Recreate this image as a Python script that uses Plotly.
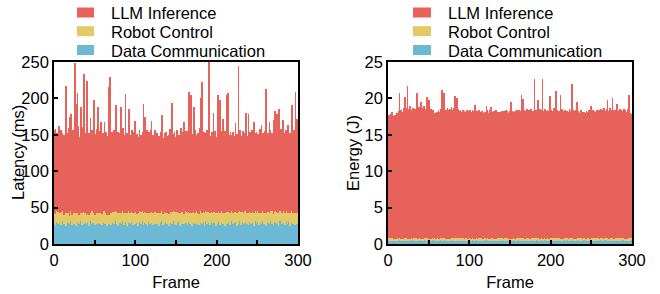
import plotly.graph_objects as go

frames = list(range(300))

lat_llm = [
115,95,117,100,108,96,118,104,99,112,106,101,110,97,103,175,108,100,113,98,
127,133,104,110,99,107,203,150,102,165,111,96,105,140,108,100,113,190,104,109,
98,173,106,112,101,130,97,109,104,155,110,102,99,114,145,103,107,96,125,111,
100,108,120,97,112,105,101,109,175,183,98,110,104,96,113,107,145,102,100,111,
106,97,143,109,101,112,98,105,163,104,110,99,140,107,102,96,113,100,108,103,
125,97,110,104,99,112,101,106,98,109,150,103,130,97,111,105,100,108,96,110,
125,102,107,99,113,98,104,110,97,106,101,112,99,130,105,96,108,102,111,97,
104,109,99,112,101,150,106,98,110,103,97,111,105,100,108,96,113,102,107,99,
127,104,110,98,112,101,165,106,160,99,108,103,143,97,111,105,100,109,96,112,
155,103,180,98,110,101,107,99,112,104,97,205,106,100,109,102,135,98,111,105,
100,108,160,97,155,110,102,106,130,99,112,104,160,101,163,98,107,110,100,105,
111,97,104,120,102,109,99,200,106,112,98,104,110,97,108,101,135,106,99,135,
103,110,98,112,104,100,125,107,97,111,102,106,99,113,104,120,101,108,97,110,
105,170,100,109,98,125,112,103,107,99,130,104,138,110,135,101,106,140,98,112,
104,99,125,108,101,111,97,106,120,103,110,100,107,145,102,112,98,165,105,130]

lat_robot = [
14,11,16,12,15,17,10,13,14,18,11,15,12,16,13,17,11,14,15,12,
16,10,14,17,13,15,11,18,12,14,16,13,11,15,17,12,14,16,10,15,
13,17,11,15,14,12,18,13,16,11,14,15,12,17,10,14,13,16,11,15,
12,16,14,18,11,15,13,17,12,14,16,10,15,13,17,14,11,16,12,18,
15,13,11,16,14,12,17,15,10,14,18,13,16,11,15,12,14,17,13,11,
16,14,12,18,13,15,11,17,14,12,16,15,10,14,13,17,12,11,16,14,
15,12,17,13,16,14,11,15,12,18,14,13,11,16,15,12,17,14,13,15,
11,16,14,12,15,17,13,10,16,14,18,12,15,13,11,17,14,16,12,15,
14,12,16,13,17,11,14,15,10,13,18,15,12,16,14,11,17,13,15,12,
13,16,15,12,14,18,11,14,16,10,15,13,17,14,12,16,11,15,13,17,
11,15,13,14,17,12,16,11,15,14,18,13,10,16,14,12,17,15,11,14,
16,13,15,11,14,17,12,16,14,11,18,14,13,15,10,16,12,14,15,17,
12,14,16,13,15,11,18,14,12,15,16,11,17,13,14,16,10,14,15,12,
14,18,11,15,13,16,14,12,17,13,15,14,11,16,12,15,18,13,14,11,
15,13,16,11,17,14,12,15,13,10,18,14,16,12,15,13,17,11,14,15]

lat_comm = [
28,33,25,35,30,27,34,29,32,26,35,31,28,33,30,25,34,29,32,27,
31,35,26,30,33,28,34,25,32,29,35,27,31,33,26,30,34,28,32,29,
27,34,30,25,33,31,28,35,29,32,26,34,30,27,33,29,35,28,31,26,
33,29,34,27,31,25,35,30,28,32,26,34,29,33,27,31,35,28,30,25,
32,29,34,27,31,35,26,30,33,28,25,34,29,32,27,35,30,26,33,31,
28,34,29,25,32,30,35,27,31,33,26,29,34,28,32,25,30,35,27,33,
29,31,26,34,28,32,35,27,30,25,33,29,34,31,26,32,28,35,30,27,
33,25,31,34,29,27,32,35,28,30,26,33,29,34,31,25,32,28,35,30,
27,33,29,31,26,34,30,28,35,32,25,29,33,27,31,34,28,30,26,35,
32,29,27,33,30,25,34,31,28,35,29,32,26,30,33,27,34,29,31,25,
35,28,32,30,26,33,29,34,27,31,25,32,35,28,30,33,26,29,34,31,
27,32,29,35,30,25,33,28,31,34,26,30,32,27,35,29,33,28,31,26,
34,30,27,32,29,35,25,31,33,28,30,34,26,32,29,27,35,31,28,33,
30,25,34,29,32,27,31,35,28,33,26,30,34,29,32,27,25,33,31,35,
28,32,29,34,26,31,33,27,30,35,25,32,29,34,28,31,26,33,30,27]

en_llm = [
16.8,16.9,16.5,17.0,16.7,17.4,16.6,16.9,16.7,17.0,16.8,17.3,16.9,17.5,19.9,17.2,17.6,16.9,17.4,17.8,
17.1,19.4,17.5,17.9,20.8,17.3,17.7,18.2,17.0,17.6,17.4,17.9,17.2,17.8,17.5,17.1,20.0,17.6,18.0,17.3,
17.7,18.7,17.4,17.9,18.2,17.3,17.8,17.1,19.4,17.6,19.0,17.2,17.5,17.8,17.0,17.6,17.3,16.9,17.2,17.0,
17.4,16.9,17.6,17.1,17.3,17.7,20.4,17.5,17.8,20.0,17.2,17.6,17.4,17.9,17.1,17.5,17.8,17.3,18.0,17.6,
17.4,17.9,19.5,17.6,17.2,19.2,17.8,17.5,17.3,17.7,17.1,17.4,17.6,17.2,17.5,17.0,17.3,17.6,17.1,17.4,
17.2,17.5,17.0,17.3,17.6,17.1,17.4,18.4,17.2,17.5,17.0,17.3,17.6,17.2,17.4,17.1,17.5,17.3,17.0,17.4,
17.2,18.2,17.5,17.1,17.3,17.6,17.0,18.0,17.4,17.2,17.5,17.1,17.3,17.6,17.0,17.4,17.2,16.5,17.3,17.1,
17.4,17.0,17.3,17.5,17.1,17.6,17.2,17.4,17.0,17.3,17.5,18.7,17.2,17.6,17.3,17.0,17.5,17.2,17.4,17.7,
17.3,17.6,17.1,17.5,19.7,17.2,19.2,17.6,17.4,17.0,17.5,17.7,17.3,17.6,17.1,17.4,17.8,17.2,17.5,17.3,
21.9,17.4,17.7,17.2,19.0,17.5,17.3,17.8,17.1,17.6,21.8,17.3,17.5,17.7,17.2,17.4,17.6,17.1,17.5,19.5,
17.3,17.6,17.2,17.5,17.8,17.1,17.4,20.2,17.6,17.3,17.5,17.2,19.7,17.4,17.7,17.1,17.5,17.3,17.6,17.2,
17.5,17.0,17.4,17.7,17.2,17.5,21.2,17.3,17.6,17.1,17.4,17.7,18.7,17.2,17.5,17.0,17.3,17.6,17.1,17.4,
16.9,17.3,17.0,17.2,17.5,17.1,17.4,17.6,17.2,17.4,18.2,17.3,17.6,17.1,17.5,17.2,17.4,17.7,17.3,17.6,
17.2,17.5,17.8,17.3,17.6,17.4,17.9,17.2,17.5,17.7,19.0,17.4,17.6,17.8,17.3,17.5,19.2,17.7,17.4,17.6,
17.3,17.7,18.5,17.2,17.5,17.8,17.4,17.6,17.1,17.5,17.7,17.3,17.6,17.2,17.4,17.8,19.6,17.7,17.3,17.0]

en_comm = [
.50,.47,.52,.49,.54,.46,.51,.48,.53,.50,.45,.52,.49,.47,.53,.50,.48,.54,.46,.51,
.49,.53,.47,.50,.52,.46,.54,.48,.51,.49,.45,.53,.50,.47,.52,.48,.54,.46,.51,.49,
.52,.48,.50,.46,.53,.49,.51,.47,.54,.50,.48,.52,.45,.51,.49,.53,.47,.50,.52,.46,
.51,.49,.53,.47,.50,.54,.48,.52,.46,.49,.51,.47,.53,.50,.45,.52,.48,.54,.49,.51,
.47,.50,.53,.48,.52,.46,.49,.54,.51,.47,.50,.52,.45,.53,.49,.51,.48,.50,.46,.52,
.49,.53,.47,.51,.50,.46,.54,.48,.52,.49,.45,.51,.53,.47,.50,.52,.48,.46,.54,.49,
.51,.47,.52,.50,.48,.53,.46,.49,.51,.54,.47,.50,.52,.45,.49,.53,.48,.51,.46,.50,
.52,.49,.47,.53,.50,.46,.51,.54,.48,.49,.52,.47,.50,.45,.53,.51,.48,.49,.52,.46,
.50,.53,.48,.51,.47,.54,.49,.52,.46,.50,.48,.53,.45,.51,.49,.47,.52,.50,.54,.48,
.51,.46,.49,.53,.50,.47,.52,.48,.54,.49,.51,.45,.50,.53,.47,.52,.48,.50,.46,.51,
.49,.52,.47,.54,.50,.48,.53,.46,.51,.49,.52,.47,.50,.45,.53,.48,.51,.54,.49,.47,
.52,.50,.46,.51,.53,.48,.49,.54,.47,.50,.52,.45,.51,.49,.53,.47,.50,.52,.48,.46,
.51,.49,.53,.47,.50,.54,.48,.52,.46,.49,.51,.47,.53,.50,.45,.52,.48,.51,.49,.53,
.47,.50,.52,.48,.54,.46,.51,.49,.53,.47,.50,.52,.45,.51,.48,.54,.49,.50,.46,.52,
.49,.53,.47,.51,.50,.48,.52,.46,.54,.49,.51,.47,.50,.53,.45,.52,.48,.50,.49,.51]

en_robot = [
.28,.31,.25,.30,.27,.33,.29,.26,.32,.28,.30,.24,.31,.27,.29,.33,.26,.30,.28,.32,
.29,.25,.31,.28,.33,.27,.30,.26,.32,.29,.24,.31,.28,.30,.27,.33,.25,.29,.31,.28,
.30,.27,.32,.26,.29,.31,.25,.33,.28,.30,.27,.32,.29,.24,.31,.28,.26,.30,.33,.29,
.27,.31,.28,.25,.32,.29,.30,.26,.33,.28,.31,.27,.24,.30,.29,.32,.26,.28,.31,.30,
.29,.26,.32,.30,.27,.33,.28,.25,.31,.29,.30,.27,.32,.28,.26,.31,.29,.33,.27,.30,
.28,.31,.26,.29,.33,.27,.30,.24,.32,.28,.29,.31,.26,.30,.27,.33,.28,.25,.31,.29,
.30,.27,.32,.28,.25,.31,.29,.33,.26,.30,.28,.27,.32,.29,.31,.24,.30,.28,.33,.26,
.29,.31,.27,.30,.26,.32,.28,.29,.33,.25,.31,.27,.30,.28,.32,.29,.26,.31,.27,.30,
.28,.32,.29,.26,.31,.30,.27,.33,.28,.25,.30,.29,.32,.27,.31,.28,.26,.30,.29,.33,
.27,.30,.28,.32,.26,.29,.31,.25,.30,.28,.33,.27,.29,.31,.26,.30,.28,.32,.29,.27,
.31,.28,.30,.26,.33,.29,.27,.31,.25,.30,.28,.32,.29,.27,.31,.26,.30,.28,.33,.29,
.28,.31,.27,.30,.26,.32,.29,.28,.33,.25,.30,.27,.31,.29,.28,.32,.26,.30,.29,.27,
.32,.28,.30,.27,.31,.26,.29,.33,.28,.30,.25,.31,.27,.29,.32,.28,.30,.26,.31,.29,
.27,.30,.28,.32,.29,.26,.31,.28,.30,.33,.27,.29,.25,.31,.28,.30,.32,.27,.29,.26,
.30,.28,.31,.27,.29,.33,.26,.30,.28,.32,.29,.27,.31,.25,.30,.28,.32,.29,.27,.30]

x_tickvals = [0, 50, 100, 150, 200, 250, 300]
x_ticktext = ["0", "", "100", "", "200", "", "300"]
lat_ticks = [0, 50, 100, 150, 200, 250]
en_ticks = [0, 5, 10, 15, 20, 25]

series_names = ["Data Communication", "Robot Control", "LLM Inference"]
colors = ["#6CB9D6", "#E4CA66", "#E6625A"]
y_titles = ["Latency (ms)", "Energy (J)"]

FONT = "Arial, Liberation Sans, sans-serif"
W, H = 660, 294

fig = go.Figure()
for name, vals, col in zip(series_names, [lat_comm, lat_robot, lat_llm], colors):
    fig.add_trace(go.Bar(x=frames, y=vals, name=name, marker=dict(color=col, line=dict(width=0)),
                         xaxis="x", yaxis="y", showlegend=False))
for name, vals, col in zip(series_names, [en_comm, en_robot, en_llm], colors):
    fig.add_trace(go.Bar(x=frames, y=vals, name=name, marker=dict(color=col, line=dict(width=0)),
                         xaxis="x2", yaxis="y2", showlegend=False))

# legend drawn as swatches + text, top entry = last stacked series
row_centers = [12.5, 31.2, 50.0]
legend_blocks = [(77, 94, 109), (413, 431, 446)]  # swatch x0, swatch x1, text x (pixels)
shapes, annotations = [], []
for sx0, sx1, tx in legend_blocks:
    for rc, name, col in zip(row_centers, series_names[::-1], colors[::-1]):
        shapes.append(dict(type="rect", xref="paper", yref="paper",
                           x0=sx0/W, x1=sx1/W, y0=1-(rc+5)/H, y1=1-(rc-5)/H,
                           fillcolor=col, line=dict(width=0)))
        annotations.append(dict(text=name, xref="paper", yref="paper", x=tx/W, y=1-(rc+1)/H,
                                xanchor="left", yanchor="middle", showarrow=False,
                                font=dict(size=16.5, color="black", family=FONT)))

# y-axis titles
for title, xc in zip(y_titles, [18, 353]):
    annotations.append(dict(text=title, xref="paper", yref="paper", x=xc/W, y=1-153/H,
                            xanchor="center", yanchor="middle", textangle=-90, showarrow=False,
                            font=dict(size=16.5, color="black", family=FONT)))

axis_common = dict(showline=True, linecolor="black", linewidth=1.6, mirror=True,
                   ticks="inside", ticklen=4, tickwidth=1.6, tickcolor="black",
                   showgrid=False, zeroline=False, automargin=False,
                   tickfont=dict(size=16.5, color="black", family=FONT))

ydom = [1 - 244/H, 1 - 62/H]
fig.update_layout(
    width=W, height=H,
    margin=dict(l=0, r=0, t=0, b=0),
    plot_bgcolor="white", paper_bgcolor="white",
    barmode="stack", bargap=0.1,
    font=dict(family=FONT, color="black"),
    showlegend=False,
    shapes=shapes, annotations=annotations,
    xaxis=dict(domain=[54/W, 298/W], range=[0, 300], tickvals=x_tickvals, ticktext=x_ticktext,
               title=dict(text="Frame", font=dict(size=16.5), standoff=9), anchor="y", **axis_common),
    yaxis=dict(domain=ydom, range=[0, 250], tickvals=lat_ticks, anchor="x", **axis_common),
    xaxis2=dict(domain=[388/W, 632/W], range=[0, 300], tickvals=x_tickvals, ticktext=x_ticktext,
                title=dict(text="Frame", font=dict(size=16.5), standoff=9), anchor="y2", **axis_common),
    yaxis2=dict(domain=ydom, range=[0, 25], tickvals=en_ticks, anchor="x2", **axis_common),
)

fig.write_html("out.html", config={"displayModeBar": False},
               post_script="document.body.style.margin='0';document.body.style.overflow='hidden';")
